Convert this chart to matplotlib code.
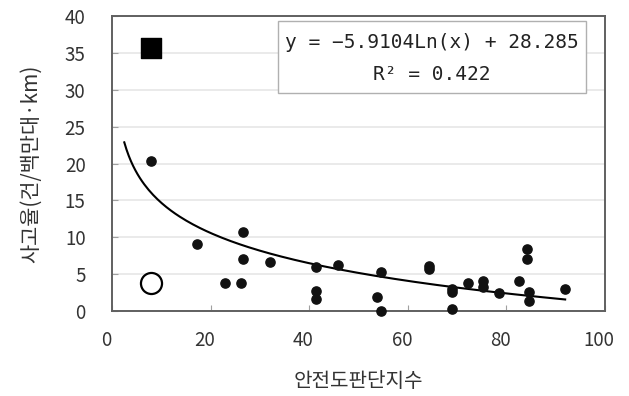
import numpy as np
import matplotlib
matplotlib.use("Agg")
import matplotlib.pyplot as plt
from matplotlib.transforms import ScaledTranslation
from matplotlib.patches import Rectangle

plt.rcParams['font.family'] = ['Noto Sans CJK KR', 'DejaVu Sans']

# Data
x_pts = [8, 17.3, 26.5, 26.5, 32.1, 22.9, 26.2, 41.3, 41.3, 41.3, 45.8, 54.5, 53.8, 54.5,
         64.2, 64.2, 69, 69, 69, 72.3, 75.3, 75.3, 78.4, 82.6, 84.2, 84.2, 84.6, 84.6, 91.9]
y_pts = [20.3, 9.1, 10.75, 7.0, 6.7, 3.75, 3.75, 5.92, 2.75, 1.63, 6.24, 5.33, 1.85, 0.04,
         6.1, 5.65, 2.94, 2.62, 0.23, 3.84, 4.1, 3.3, 2.5, 4.07, 8.37, 7.0, 2.53, 1.4, 2.98]
square_x = [8]
square_y = [35.6]
circle_x = [8]
circle_y = [3.75]
coef_a = -5.9104
coef_b = 28.285
trend_range = [2.5, 91.9]
r2 = 0.422
x_ticks = [0, 20, 40, 60, 80, 100]
y_ticks = [0, 5, 10, 15, 20, 25, 30, 35, 40]

fig = plt.figure(figsize=(6.29, 3.96), dpi=100)
ax = fig.add_axes([0.178, 0.2146, 0.784, 0.745])

ax.set_xlim(0, 100)
ax.set_ylim(0, 40)
ax.set_yticks(y_ticks)
ax.set_xticks(x_ticks)
ax.grid(axis='y', color='#e6e6e6', linewidth=1.2)
ax.set_axisbelow(True)

for s in ax.spines.values():
    s.set_color('#606060')
    s.set_linewidth(1.4)

ax.tick_params(axis='both', direction='in', length=4, color='#a0a0a0',
               labelsize=13.5, labelcolor='#333333')
ax.tick_params(axis='y', pad=19, left=True)
ax.tick_params(axis='x', pad=14)
for lab in ax.get_xticklabels():
    lab.set_transform(lab.get_transform() + ScaledTranslation(-6/100, 0, fig.dpi_scale_trans))

# trend line
xt = np.linspace(trend_range[0], trend_range[1], 200)
ax.plot(xt, coef_a * np.log(xt) + coef_b, color='black', linewidth=1.5, zorder=3)

ax.scatter(x_pts, y_pts, s=44, color='#111111', zorder=4, clip_on=False)
ax.scatter(square_x, square_y, s=210, marker='s', color='black', zorder=4)
ax.scatter(circle_x, circle_y, s=230, marker='o', facecolor='white', edgecolor='black',
           linewidth=1.6, zorder=4)

# equation box
ax.add_patch(Rectangle((33.7, 29.6), 62.4, 9.7, facecolor='white', edgecolor='#b0b0b0',
                       linewidth=1.0, zorder=5))
ax.text(64.9, 36.4, f"y = {coef_a:.4f}Ln(x) + {coef_b:.3f}".replace('-', '\u2212'),
        ha='center', va='center', fontsize=14, family='DejaVu Sans Mono', color='#222222', zorder=6)
ax.text(64.9, 32.1, f"R\u00b2 = {r2:.3f}", ha='center', va='center', fontsize=14,
        family='DejaVu Sans Mono', color='#222222', zorder=6)

ax.set_ylabel('사고율(건/백만대·km)', fontsize=15, color='#333333', labelpad=16)
ax.set_xlabel('안전도판단지수', fontsize=14.5, color='#333333', labelpad=14)

fig.savefig('out.png', dpi=100)
